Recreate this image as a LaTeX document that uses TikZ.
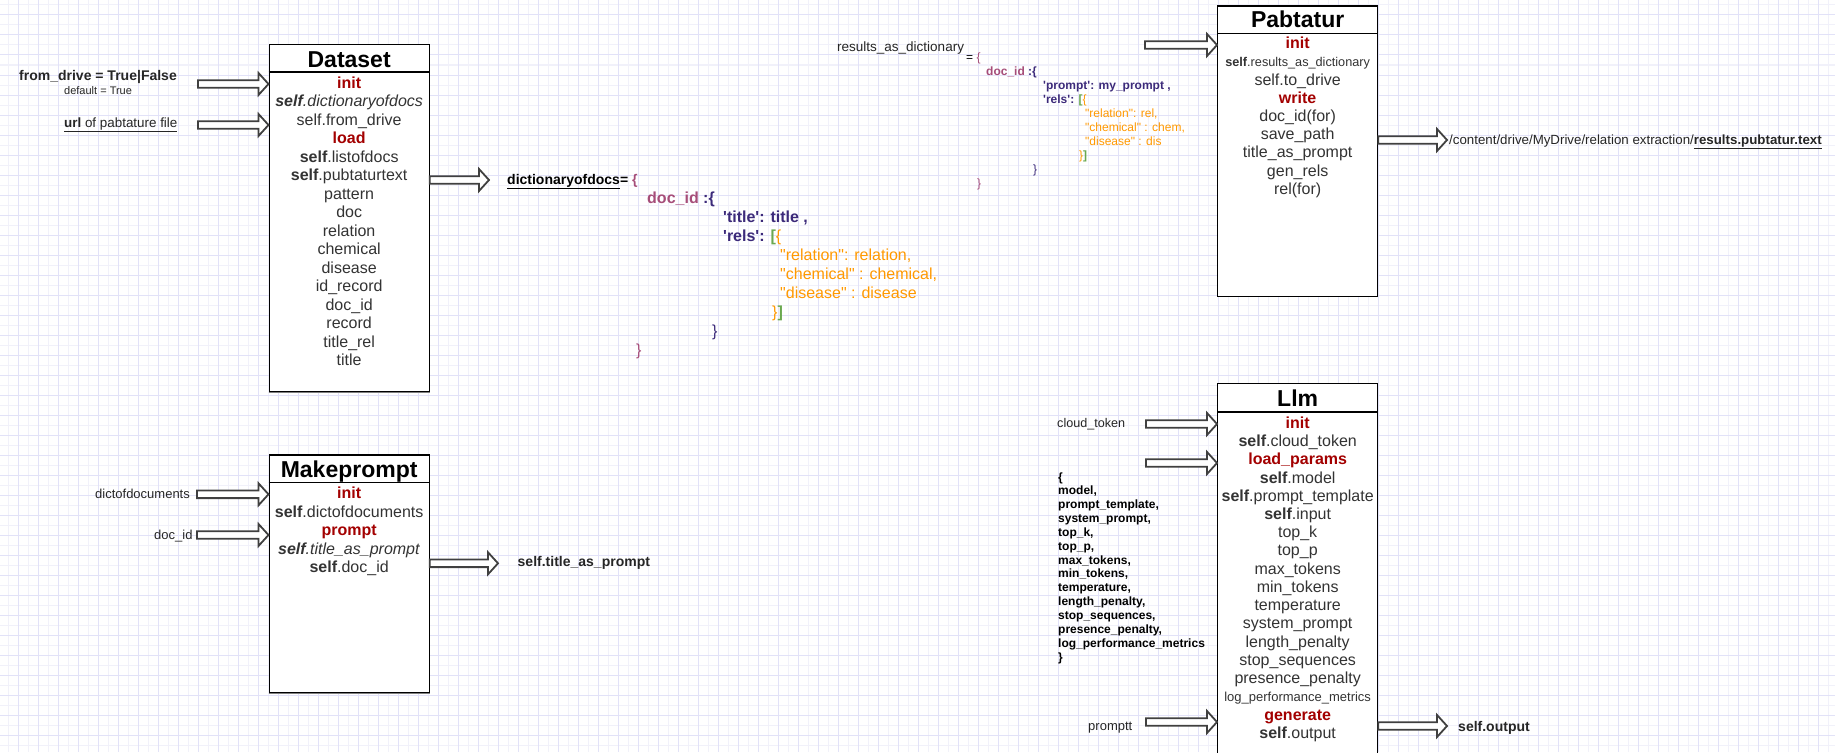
\documentclass[tikz,border=0pt]{standalone}
\usepackage{fontspec}
\setmainfont{Liberation Sans}[Ligatures=TeXOff]
\usetikzlibrary{calc}
\definecolor{gridmajor}{RGB}{226,226,248}
\definecolor{gridminor}{RGB}{241,241,250}
\definecolor{methred}{RGB}{163,0,0}
\definecolor{bodygray}{RGB}{51,51,51}
\definecolor{arrowgray}{RGB}{64,64,64}
\definecolor{keymagenta}{RGB}{166,77,121}
\definecolor{keypurple}{RGB}{60,42,122}
\definecolor{valorange}{RGB}{255,153,0}
\definecolor{brackgreen}{RGB}{106,168,79}
\newcommand{\meth}[1]{\textcolor{methred}{\textbf{#1}}}
\newcommand{\fsize}[1]{\fontsize{#1}{#1}\selectfont}

\begin{document}
\begin{tikzpicture}[x=1pt, y=-1pt,
    classbox/.style={rectangle, draw=black, line width=1.3pt, fill=white, minimum width=160pt, anchor=north west, inner sep=0pt},
    classtitle/.style={anchor=base, font=\fsize{23}\bfseries, inner sep=0pt},
    member/.style={anchor=base, font=\fsize{16}, text=bodygray, inner sep=0pt},
    note/.style={anchor=base west, font=\fsize{13}, text=black!85, inner sep=0pt},
    codeline/.style={anchor=base west, inner sep=0pt},
    barrow/.style={draw=arrowgray, line width=1.8pt, fill=white, line join=miter,
        to path={($(\tikztostart)+(0,-3.8)$) -- ($(\tikztotarget)+(-10,-3.8)$) -- ($(\tikztotarget)+(-10,-11)$) -- (\tikztotarget)
            -- ($(\tikztotarget)+(-10,11)$) -- ($(\tikztotarget)+(-10,3.8)$) -- ($(\tikztostart)+(0,3.8)$) -- cycle}}
]
    \useasboundingbox (0,0) rectangle (1835,752);
    \clip (0,0) rectangle (1835,752);
    \fill[white] (0,0) rectangle (1835,752);
    \foreach \i in {0,...,91} \draw[gridminor, line width=1pt] (8.3+20*\i,0) -- ++(0,752);
    \foreach \i in {0,...,37} \draw[gridminor, line width=1pt] (0,5+20*\i) -- ++(1835,0);
    \foreach \i in {0,...,90} \draw[gridmajor, line width=1pt] (18.3+20*\i,0) -- ++(0,752);
    \foreach \i in {0,...,36} \draw[gridmajor, line width=1pt] (0,15+20*\i) -- ++(1835,0);

    \node[classbox, minimum height=347pt] (dataset) at (268.5,44) {};
    \node[classbox, minimum height=237.7pt] (makeprompt) at (268.5,454.3) {};
    \node[classbox, minimum height=290.5pt] (pabtatur) at (1217,5.5) {};
    \node[classbox, minimum height=380pt] (llm) at (1217,383) {};
    \draw[line width=1.3pt] ($(dataset.north west)+(0,28)$) -- ($(dataset.north east)+(0,28)$);
    \draw[line width=1.3pt] ($(makeprompt.north west)+(0,28)$) -- ($(makeprompt.north east)+(0,28)$);
    \draw[line width=1.3pt] ($(pabtatur.north west)+(0,28)$) -- ($(pabtatur.north east)+(0,28)$);
    \draw[line width=1.3pt] ($(llm.north west)+(0,29)$) -- ($(llm.north east)+(0,29)$);
    \draw[gray, line width=1.6pt] (dataset.south west) -- (dataset.south east);
    \draw[gray, line width=1.6pt] (makeprompt.south west) -- (makeprompt.south east);

    \node[classtitle] (dataset-title) at ($(dataset.north)+(0,23)$) {Dataset};
    \node[classtitle] (makeprompt-title) at ($(makeprompt.north)+(0,23)$) {Makeprompt};
    \node[classtitle] (pabtatur-title) at ($(pabtatur.north)+(0,21.7)$) {Pabtatur};
    \node[classtitle] (llm-title) at ($(llm.north)+(0,23)$) {Llm};

    \foreach \txt [count=\k from 0] in {\meth{init}, \textit{\textbf{self}.dictionaryofdocs}, self.from\_drive, \meth{load},
        \textbf{self}.listofdocs, \textbf{self}.pubtaturtext, pattern, doc, relation, chemical, disease,
        id\_record, doc\_id, record, title\_rel, title}
        \node[member] (dataset-m\k) at ($(dataset.north)+(0,44.3+18.5*\k)$) {\txt};
    \foreach \txt [count=\k from 0] in {\meth{init}, \textbf{self}.dictofdocuments, \meth{prompt},
        \textit{\textbf{self}.title\_as\_prompt}, \textbf{self}.doc\_id}
        \node[member] (makeprompt-m\k) at ($(makeprompt.north)+(0,44.3+18.5*\k)$) {\txt};
    \foreach \txt [count=\k from 0] in {\meth{init}, \fsize{12.7}\textbf{self}.results\_as\_dictionary, self.to\_drive,
        \meth{write}, doc\_id(for), save\_path, title\_as\_prompt, gen\_rels, rel(for)}
        \node[member] (pabtatur-m\k) at ($(pabtatur.north)+(0,43.1+18.2*\k)$) {\txt};
    \foreach \txt [count=\k from 0] in {\meth{init}, \textbf{self}.cloud\_token, \meth{load\_params}, \textbf{self}.model,
        \textbf{self}.prompt\_template, \textbf{self}.input, top\_k, top\_p, max\_tokens, min\_tokens, temperature,
        system\_prompt, length\_penalty, stop\_sequences, presence\_penalty, \fsize{13}log\_performance\_metrics,
        \meth{generate}, \textbf{self}.output}
        \node[member] (llm-m\k) at ($(llm.north)+(0,45.3+18.24*\k)$) {\txt};

    \node[note, font=\fsize{14}\bfseries] (fromdrive) at (19,81) {from\_drive = True|False};
    \node[note, font=\fsize{11}] (fromdrive-default) at (64,94) {default = True};
    \node[note, font=\fsize{13.4}] (urlfile) at (64,127.5) {\underline{\textbf{url} of pabtature file}};
    \node[note] (dictofdocs-in) at (95,498.6) {dictofdocuments};
    \node[note] (docid-in) at (154,539.3) {doc\_id};
    \node[note, font=\fsize{14}\bfseries] (titleprompt-out) at (517.5,566.7) {self.title\_as\_prompt};
    \node[note, font=\fsize{13.5}] (results-in) at (837,51.5) {results\_as\_dictionary};
    \node[note, font=\fsize{13.3}] (savepath-out) at (1449,144.5) {/content/drive/MyDrive/relation extraction/\underline{\textbf{results.pubtatur.text}}};
    \node[note, font=\fsize{12.6}] (cloudtoken-in) at (1057,427.5) {cloud\_token};
    \node[note] (promptt-in) at (1088,730.5) {promptt};
    \node[note, font=\fsize{14}\bfseries] (output-out) at (1458,731) {self.output};
    \foreach \prm [count=\k from 0] in {\{, {model,}, {prompt\_template,}, {system\_prompt,}, {top\_k,}, {top\_p,},
        {max\_tokens,}, {min\_tokens,}, {temperature,}, {length\_penalty,}, {stop\_sequences,}, {presence\_penalty,},
        log\_performance\_metrics, \}}
        \node[note, font=\fsize{12}\bfseries, text=black] (params-\k) at (1058,481+13.85*\k) {\prm};

    \node[codeline, font=\fsize{14}\bfseries] (dict-l1) at (507,184) {\underline{dictionaryofdocs}= \textcolor{keymagenta}{\{}};
    \node[codeline, font=\fsize{16}\bfseries] (dict-l2) at (647,203.1) {\textcolor{keymagenta}{doc\_id} \textcolor{keypurple}{:\{}};
    \node[codeline, font=\fsize{16}\bfseries, text=keypurple] (dict-l3) at (723,222.2) {'title': title ,};
    \node[codeline, font=\fsize{16}\bfseries, text=keypurple] (dict-l4) at (723,241.3) {'rels': \textcolor{brackgreen}{[}\textcolor{valorange}{\mdseries\{}};
    \node[codeline, font=\fsize{16}, text=valorange] (dict-l5) at (780,260.4) {"relation": relation,};
    \node[codeline, font=\fsize{16}, text=valorange] (dict-l6) at (780,279.5) {"chemical" : chemical,};
    \node[codeline, font=\fsize{16}, text=valorange] (dict-l7) at (780,298.6) {"disease" : disease};
    \node[codeline, font=\fsize{16}, text=valorange] (dict-l8) at (772,317.7) {\}\textcolor{brackgreen}{\textbf{]}}};
    \node[codeline, font=\fsize{16}, text=keypurple] (dict-l9) at (712,336.8) {\}};
    \node[codeline, font=\fsize{16}, text=keymagenta] (dict-l10) at (636,355.9) {\}};

    \node[codeline, font=\fsize{12}] (res-l1) at (966,61) {= \textcolor{keymagenta}{\{}};
    \node[codeline, font=\fsize{12}\bfseries] (res-l2) at (986,75) {\textcolor{keymagenta}{doc\_id} \textcolor{keypurple}{:\{}};
    \node[codeline, font=\fsize{12}\bfseries, text=keypurple] (res-l3) at (1043,89) {'prompt': my\_prompt ,};
    \node[codeline, font=\fsize{12}\bfseries, text=keypurple] (res-l4) at (1043,103) {'rels': \textcolor{brackgreen}{[}\textcolor{valorange}{\mdseries\{}};
    \node[codeline, font=\fsize{12}, text=valorange] (res-l5) at (1085,117) {"relation": rel,};
    \node[codeline, font=\fsize{12}, text=valorange] (res-l6) at (1085,131) {"chemical" : chem,};
    \node[codeline, font=\fsize{12}, text=valorange] (res-l7) at (1085,145) {"disease" : dis};
    \node[codeline, font=\fsize{12}, text=valorange] (res-l8) at (1079,159) {\}\textcolor{brackgreen}{\textbf{]}}};
    \node[codeline, font=\fsize{12}, text=keypurple] (res-l9) at (1033,173) {\}};
    \node[codeline, font=\fsize{12}, text=keymagenta] (res-l10) at (977,187) {\}};

    \coordinate (fromdrive-tail) at (198,84);
    \coordinate (url-tail) at (198,125);
    \coordinate (dict-tip) at (489,180);
    \coordinate (dictofdocs-tail) at (197,494.3);
    \coordinate (docid-tail) at (197,535);
    \coordinate (titleprompt-tip) at (498,563.3);
    \coordinate (results-tail) at (1145,45);
    \coordinate (savepath-tip) at (1447,140);
    \coordinate (cloudtoken-tail) at (1146,424);
    \coordinate (params-tail) at (1146,463);
    \coordinate (promptt-tail) at (1146,722);
    \coordinate (output-tip) at (1447,726);

    \draw[barrow] (fromdrive-tail) to (fromdrive-tail -| dataset.west);
    \draw[barrow] (url-tail) to (url-tail -| dataset.west);
    \draw[barrow] (dict-tip -| dataset.east) to (dict-tip);
    \draw[barrow] (dictofdocs-tail) to (dictofdocs-tail -| makeprompt.west);
    \draw[barrow] (docid-tail) to (docid-tail -| makeprompt.west);
    \draw[barrow] (titleprompt-tip -| makeprompt.east) to (titleprompt-tip);
    \draw[barrow] (results-tail) to (results-tail -| pabtatur.west);
    \draw[barrow] (savepath-tip -| pabtatur.east) to (savepath-tip);
    \draw[barrow] (cloudtoken-tail) to (cloudtoken-tail -| llm.west);
    \draw[barrow] (params-tail) to (params-tail -| llm.west);
    \draw[barrow] (promptt-tail) to (promptt-tail -| llm.west);
    \draw[barrow] (output-tip -| llm.east) to (output-tip);
\end{tikzpicture}
\end{document}
